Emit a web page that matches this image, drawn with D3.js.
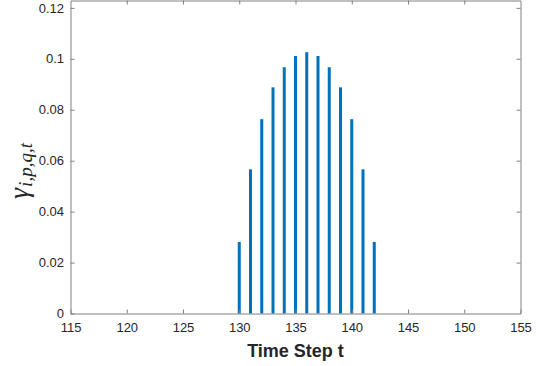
<!DOCTYPE html>
<html>
<head>
<meta charset="utf-8">
<script src="https://cdn.jsdelivr.net/npm/d3@7"></script>
<style>
  body { margin: 0; background: #fff; }
  svg { display: block; }
</style>
</head>
<body>
<svg id="chart" width="537" height="366"></svg>
<script>
// time steps and gamma values
var steps = [130, 131, 132, 133, 134, 135, 136, 137, 138, 139, 140, 141, 142];
var gammas = [0.0281, 0.0566, 0.0763, 0.0888, 0.0967, 0.1011, 0.1026, 0.1011, 0.0967, 0.0888, 0.0763, 0.0566, 0.0281];
var xTicks = [115, 120, 125, 130, 135, 140, 145, 150, 155];
var yTicks = [0, 0.02, 0.04, 0.06, 0.08, 0.1, 0.12];

(function() {
    var svg = d3.select('#chart');
    var mLeft = 70.5, mRight = 520.5, mTop = 0.5, mBottom = 313.5;

    var x = d3.scaleLinear().domain([115, 155]).range([mLeft, mRight]);
    var y = d3.scaleLinear().domain([0, 0.1229]).range([mBottom, mTop]);

    var axisColor = '#808080';
    var font = '"Liberation Sans", Arial, Helvetica, sans-serif';

    // bars
    svg.append('g')
        .selectAll('rect')
        .data(steps)
        .enter().append('rect')
        .attr('x', function(d) { return x(d) - 1.5; })
        .attr('width', 3)
        .attr('y', function(d, i) { return y(gammas[i]); })
        .attr('height', function(d, i) { return y(0) - y(gammas[i]); })
        .attr('fill', '#0072BD');

    var gx = svg.append('g').attr('transform', 'translate(0,' + mBottom + ')')
        .call(d3.axisBottom(x).tickValues(xTicks).tickSizeInner(-4).tickSizeOuter(0).tickPadding(9));
    var gxt = svg.append('g').attr('transform', 'translate(0,' + mTop + ')')
        .call(d3.axisTop(x).tickValues(xTicks).tickSizeInner(-4).tickSizeOuter(0).tickFormat(''));
    var gy = svg.append('g').attr('transform', 'translate(' + mLeft + ',0)')
        .call(d3.axisLeft(y).tickValues(yTicks).tickSizeInner(-4).tickSizeOuter(0).tickPadding(6.5)
            .tickFormat(function(d) { return d === 0 ? '0' : String(+d.toFixed(2)); }));
    var gyr = svg.append('g').attr('transform', 'translate(' + mRight + ',0)')
        .call(d3.axisRight(y).tickValues(yTicks).tickSizeInner(-4).tickSizeOuter(0).tickFormat(''));

    [gx, gxt, gy, gyr].forEach(function(g) {
        g.selectAll('.domain').attr('stroke', axisColor);
        g.selectAll('.tick line').attr('stroke', axisColor);
        g.selectAll('.tick text')
            .attr('fill', '#262626')
            .style('font-family', font)
            .style('font-size', '13px');
    });
    gxt.selectAll('.tick line').filter(function(d) { return d === 115 || d === 155; }).remove();
    gyr.selectAll('.tick line').filter(function(d) { return d === 0; }).remove();

    // x label
    svg.append('text')
        .attr('x', (mLeft + mRight) / 2)
        .attr('y', 357)
        .attr('text-anchor', 'middle')
        .style('font-family', font)
        .style('font-size', '18px')
        .style('font-weight', 'bold')
        .attr('fill', '#262626')
        .text('Time Step t');

    // y label: gamma with subscript i,p,q,t
    var yl = svg.append('text')
        .attr('transform', 'translate(28,171) rotate(-90)')
        .attr('text-anchor', 'middle')
        .style('font-family', '"Liberation Serif", "DejaVu Serif", serif')
        .style('font-style', 'italic')
        .attr('fill', '#262626');
    yl.append('tspan').style('font-size', '28px').text('γ');
    yl.append('tspan').style('font-size', '19px').attr('dx', 1).attr('dy', 4).text('i,p,q,t');
})();
</script>
</body>
</html>
